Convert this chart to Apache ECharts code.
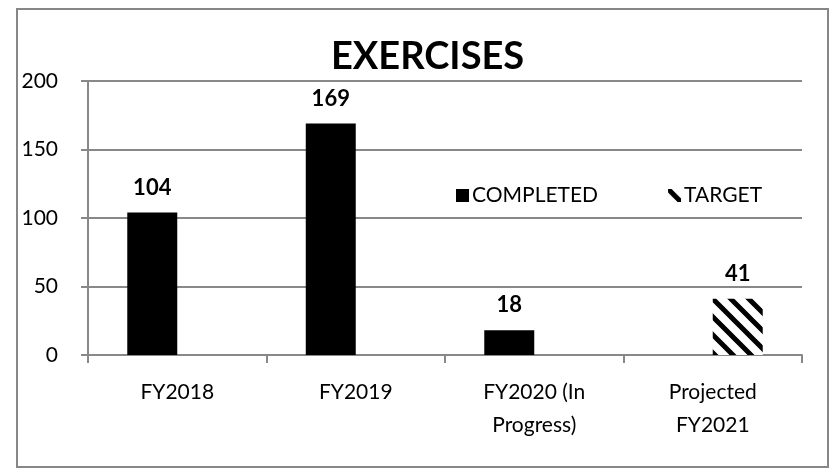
<!DOCTYPE html>
<html>
<head>
<meta charset="utf-8">
<script src="https://cdn.jsdelivr.net/npm/echarts@6/dist/echarts.min.js"></script>
<style>
html,body{margin:0;padding:0;background:#fff;}
#c{width:833px;height:476px;}
</style>
</head>
<body>
<div id="c"></div>
<script>
const categories = ['FY2018', 'FY2019', 'FY2020 (In\nProgress)', 'Projected\nFY2021'];
const completed = [104, 169, 18, '-'];
const target = ['-', '-', '-', 41];
const yTicks = {min: 0, max: 200, interval: 50};

const FONT = 'Lato, "Open Sans", sans-serif';

function makeHatch() {
  const s = 18;
  const cv = document.createElement('canvas');
  cv.width = s; cv.height = s;
  const ctx = cv.getContext('2d');
  ctx.fillStyle = '#fff';
  ctx.fillRect(0, 0, s, s);
  ctx.strokeStyle = '#000';
  ctx.lineWidth = 5;
  ctx.beginPath();
  ctx.moveTo(-2, -2); ctx.lineTo(s + 2, s + 2);
  ctx.moveTo(-2, s - 2); ctx.lineTo(2, s + 2);
  ctx.moveTo(s - 2, -2); ctx.lineTo(s + 2, 2);
  ctx.stroke();
  return cv;
}
const hatch = {image: makeHatch(), repeat: 'repeat'};

const chart = echarts.init(document.getElementById('c'), null, {renderer: 'canvas'});
const labelStyle = {
  show: true, position: 'top', distance: 14,
  color: '#000', fontFamily: FONT, fontWeight: 'bold', fontSize: 22
};
chart.setOption({
  animation: false,
  backgroundColor: '#fff',
  graphic: [{
    type: 'rect', shape: {x: 17, y: 9, width: 811, height: 458},
    style: {fill: 'none', stroke: '#878787', lineWidth: 2}, silent: true
  }],
  title: {
    text: 'EXERCISES', left: 326, top: 33,
    textStyle: {fontFamily: FONT, fontWeight: 'bold', fontSize: 38, color: '#000'}
  },
  legend: {
    left: 451, top: 180, itemWidth: 13, itemHeight: 13, itemGap: 70,
    icon: 'rect',
    textStyle: {fontFamily: FONT, fontSize: 21, color: '#000', padding: [0, 0, 0, -2]},
    data: ['COMPLETED', 'TARGET']
  },
  grid: {left: 88, right: 31, top: 81, bottom: 121},
  xAxis: {
    type: 'category', data: categories,
    axisLine: {lineStyle: {color: '#888', width: 2}},
    axisTick: {show: true, length: 8, lineStyle: {color: '#888', width: 2}},
    axisLabel: {color: '#000', fontFamily: FONT, fontSize: 21, lineHeight: 33, margin: 21, interval: 0}
  },
  yAxis: {
    type: 'value', min: yTicks.min, max: yTicks.max, interval: yTicks.interval,
    axisLine: {show: true, lineStyle: {color: '#888', width: 2}},
    axisTick: {show: true, length: 7, lineStyle: {color: '#888', width: 2}},
    splitLine: {lineStyle: {color: '#888', width: 2}},
    axisLabel: {color: '#000', fontFamily: FONT, fontSize: 21, margin: 30}
  },
  series: [
    {name: 'COMPLETED', type: 'bar', data: completed, barGap: '0%', barCategoryGap: '44%',
     itemStyle: {color: '#000'}, label: labelStyle},
    {name: 'TARGET', type: 'bar', data: target, barGap: '0%', barCategoryGap: '44%',
     itemStyle: {color: hatch}, label: labelStyle}
  ]
});
</script>
</body>
</html>
